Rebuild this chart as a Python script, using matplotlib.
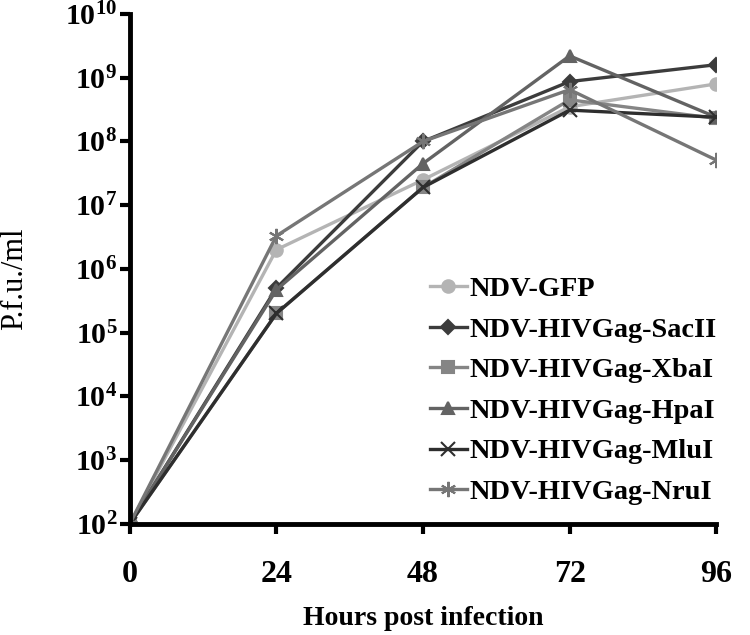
import numpy as np
import matplotlib
matplotlib.use('Agg')
import matplotlib.pyplot as plt

plt.rcParams['font.family'] = 'Liberation Serif'
plt.rcParams['mathtext.fontset'] = 'custom'
plt.rcParams['mathtext.rm'] = 'Liberation Serif:bold'
plt.rcParams['mathtext.bf'] = 'Liberation Serif:bold'

# data
hours = [0, 24, 48, 72, 96]
gfp = [1e2, 2.0e6, 2.5e7, 3.5e8, 8.0e8]
sacII = [1e2, 5.0e5, 1.0e8, 8.7e8, 1.6e9]
xbaI = [1e2, 2.0e5, 1.9e7, 4.5e8, 2.3e8]
hpaI = [1e2, 4.7e5, 4.5e7, 2.2e9, 2.4e8]
mluI = [1e2, 2.0e5, 1.9e7, 3.1e8, 2.4e8]
nruI = [1e2, 3.3e6, 1.0e8, 6.5e8, 5.1e7]
labels = ['NDV-GFP', 'NDV-HIVGag-SacII', 'NDV-HIVGag-XbaI',
          'NDV-HIVGag-HpaI', 'NDV-HIVGag-MluI', 'NDV-HIVGag-NruI']
exponents = [2, 3, 4, 5, 6, 7, 8, 9, 10]

series = [gfp, sacII, xbaI, hpaI, mluI, nruI]
colors = ['#b4b4b4', '#3c3c3c', '#858585', '#636363', '#2e2e2e', '#767676']
markers = ['o', 'D', 's', '^', 'x', (6, 2, 0)]
msizes = [9, 7, 9, 9, 10, 11]

fig = plt.figure(figsize=(7.5, 6.35), dpi=100)
ax = fig.add_axes([0.173, 0.175, 0.782, 0.803])

for vals, lab, c, m, ms in zip(series, labels, colors, markers, msizes):
    ax.plot(hours, vals, color=c, marker=m, markersize=ms, lw=2.4,
            markeredgewidth=1.5, label=lab)

ax.set_yscale('log')
ax.set_ylim(1e2, 1e10)
ax.set_xlim(0, 96)
ax.set_xticks(hours)
ax.set_xticklabels([str(h) for h in hours])
ax.set_yticks([10.0 ** e for e in exponents])
ax.set_yticklabels([r'$\mathbf{10^{%d}}$' % e for e in exponents])
ax.yaxis.set_minor_locator(matplotlib.ticker.NullLocator())

for s in ['top', 'right']:
    ax.spines[s].set_visible(False)
for s in ['left', 'bottom']:
    ax.spines[s].set_linewidth(3.5)
ax.tick_params(width=3, length=7, direction='out')
ax.tick_params(axis='y', labelsize=21.5, pad=2)
ax.tick_params(axis='x', labelsize=23, pad=19)
for t in ax.get_xticklabels():
    t.set_fontweight('bold')

ax.set_xlabel('Hours post infection', fontsize=20, fontweight='bold')
ax.xaxis.set_label_coords(0.5, -0.162)
ax.set_ylabel('P.f.u./ml', fontsize=22)
ax.yaxis.set_label_coords(-0.172, 0.48)

leg = ax.legend(loc='upper left', bbox_to_anchor=(0.539, 0.605),
                bbox_transform=fig.transFigure, frameon=False,
                handlelength=1.3, handletextpad=0.1, labelspacing=0.52,
                prop={'family': 'Liberation Serif', 'weight': 'bold', 'size': 20.4})

fig.savefig('out.png', dpi=100)
